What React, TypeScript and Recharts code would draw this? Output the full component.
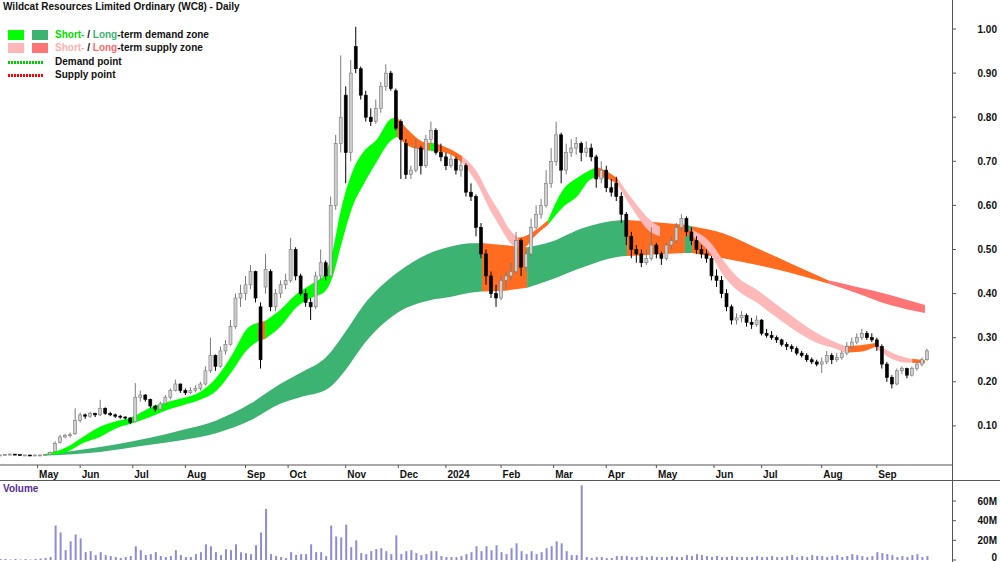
import React from 'react';
import { ComposedChart, BarChart, Bar, Area, XAxis, YAxis } from 'recharts';

// ---------- DATA ----------
// one candle per two trading-day slots, x = slot index (2*k)
const candleOpen = [
  .034,.034,.035,.036,.035,.034,.034,.033,.034,.034,
  .035,.042,.062,.075,.078,.082,.112,.125,.122,.128,
  .125,.140,.128,.125,.122,.120,.118,.110,.165,.170,
  .160,.145,.138,.150,.165,.180,.195,.180,.175,.180,
  .185,.195,.225,.260,.235,.270,.285,.325,.390,.400,
  .420,.450,.370,.415,.450,.370,.400,.420,.430,.500,
  .440,.400,.380,.370,.440,.470,.440,.600,.740,.850,
  .720,.960,.910,.850,.800,.790,.820,.870,.900,.860,
  .790,.740,.670,.680,.730,.690,.750,.770,.720,.710,
  .690,.705,.680,.690,.630,.620,.550,.490,.440,.400,
  .390,.430,.440,.450,.520,.460,.490,.550,.580,.600,
  .650,.700,.760,.680,.720,.730,.740,.720,.730,.710,
  .660,.680,.640,.650,.620,.580,.530,.500,.490,.470,
  .480,.510,.490,.480,.510,.520,.550,.570,.540,.520,
  .500,.490,.480,.440,.430,.400,.370,.340,.345,.350,
  .335,.330,.340,.310,.305,.300,.295,.285,.280,.275,
  .265,.260,.250,.245,.240,.245,.260,.250,.255,.265,
  .280,.290,.300,.310,.300,.295,.280,.240,.210,.195,
  .225,.230,.215,.230,.240,.250,
];
const candleHigh = [
  .035,.036,.037,.036,.035,.035,.034,.035,.035,.036,
  .042,.065,.080,.082,.085,.140,.130,.128,.132,.130,
  .159,.142,.132,.128,.125,.122,.120,.197,.180,.172,
  .162,.148,.155,.170,.185,.205,.196,.185,.188,.192,
  .200,.235,.300,.262,.280,.295,.340,.400,.420,.440,
  .465,.452,.380,.490,.455,.410,.430,.445,.526,.505,
  .445,.410,.390,.450,.500,.475,.620,.760,.940,.870,
  .930,1.005,.915,.860,.820,.840,.880,.920,.905,.865,
  .795,.750,.690,.750,.735,.760,.790,.775,.740,.720,
  .715,.710,.700,.695,.650,.625,.560,.500,.450,.420,
  .440,.450,.470,.540,.525,.500,.570,.600,.615,.680,
  .730,.790,.765,.740,.750,.755,.745,.745,.740,.715,
  .700,.690,.660,.665,.630,.585,.540,.510,.500,.500,
  .550,.515,.495,.515,.530,.560,.580,.575,.550,.530,
  .510,.500,.485,.455,.440,.410,.375,.355,.360,.355,
  .345,.350,.342,.320,.315,.305,.298,.290,.285,.280,
  .270,.265,.255,.250,.255,.270,.265,.265,.270,.290,
  .300,.310,.320,.315,.310,.300,.285,.245,.215,.230,
  .235,.232,.235,.245,.255,.275,
];
const candleLow = [
  .033,.034,.034,.034,.033,.033,.032,.033,.033,.034,
  .035,.042,.060,.072,.074,.080,.108,.116,.118,.120,
  .122,.125,.122,.118,.116,.114,.104,.108,.155,.155,
  .140,.132,.135,.148,.160,.178,.175,.170,.172,.176,
  .180,.192,.220,.225,.232,.262,.282,.320,.370,.385,
  .410,.380,.230,.400,.360,.360,.390,.410,.425,.430,
  .395,.370,.340,.365,.430,.430,.440,.590,.720,.650,
  .700,.900,.840,.790,.780,.785,.810,.860,.860,.770,
  .660,.660,.660,.675,.670,.685,.740,.715,.700,.680,
  .685,.670,.665,.620,.610,.530,.480,.420,.390,.370,
  .385,.410,.430,.445,.440,.450,.485,.545,.570,.595,
  .640,.690,.650,.670,.710,.715,.700,.710,.700,.640,
  .650,.630,.620,.610,.560,.510,.480,.470,.460,.465,
  .475,.480,.465,.475,.500,.515,.540,.530,.510,.490,
  .480,.470,.430,.415,.390,.360,.330,.330,.335,.325,
  .320,.325,.305,.300,.295,.288,.280,.272,.268,.260,
  .255,.245,.240,.235,.220,.240,.240,.245,.250,.260,
  .275,.285,.295,.295,.290,.270,.230,.200,.185,.192,
  .218,.208,.212,.225,.235,.248,
];
const candleClose = [
  .034,.035,.036,.035,.034,.034,.033,.034,.034,.035,
  .040,.060,.075,.078,.080,.112,.125,.122,.128,.125,
  .140,.128,.125,.122,.120,.118,.108,.165,.170,.160,
  .145,.138,.150,.165,.180,.195,.180,.175,.180,.185,
  .195,.225,.260,.235,.270,.285,.325,.390,.400,.420,
  .450,.390,.250,.455,.370,.400,.420,.430,.500,.440,
  .400,.380,.370,.440,.470,.440,.600,.740,.800,.720,
  .900,.910,.850,.800,.790,.820,.870,.900,.865,.775,
  .750,.670,.680,.730,.690,.750,.770,.720,.710,.690,
  .705,.680,.690,.630,.620,.550,.490,.440,.400,.390,
  .430,.440,.450,.520,.460,.490,.550,.580,.600,.650,
  .700,.760,.680,.720,.730,.740,.720,.730,.710,.660,
  .680,.640,.630,.620,.580,.530,.500,.490,.470,.480,
  .510,.490,.480,.510,.520,.550,.570,.540,.520,.500,
  .490,.480,.440,.430,.400,.370,.340,.345,.350,.335,
  .330,.340,.310,.305,.300,.295,.285,.280,.275,.265,
  .260,.250,.245,.240,.245,.260,.250,.255,.265,.280,
  .290,.300,.310,.300,.295,.280,.240,.210,.195,.225,
  .230,.215,.230,.240,.250,.270,
];
// volume in millions
const volumeM = [
  1,1,0.5,1,0.5,1,0.5,1,1.5,2,
  3,35,28,10,19,26,22,8,9,5,
  8,5,4,3,2,3,4,14,10,5,
  6,8,4,3,4,10,5,3,3,6,
  8,16,14,8,5,11,10,16,8,7,
  6,15,28,52,6,4,3,2,8,5,
  6,6,16,8,8,4,35,24,23,36,
  13,20,7,6,9,11,12,9,6,25,
  6,9,10,7,5,6,9,9,4,3,
  3,3,4,6,8,14,9,14,10,15,
  8,6,12,17,9,6,9,6,8,12,
  14,19,17,9,5,5,76,3,2,3,
  3,2,2,4,4,4,3,3,4,3,
  4,3,3,3,4,3,3,5,4,6,
  5,4,3,4,3,3,4,3,3,3,
  3,4,3,3,4,3,3,4,5,3,
  4,3,5,4,4,3,4,5,3,4,
  6,5,4,3,4,8,7,6,5,3,
  4,3,5,6,3,4,
];

const monthTickIdx = [15, 32, 53, 74, 98, 115, 138, 159, 178, 200, 221, 242, 262, 285, 304, 328, 350];
const monthLabels = ['May', 'Jun', 'Jul', 'Aug', 'Sep', 'Oct', 'Nov', 'Dec', '2024', 'Feb', 'Mar', 'Apr', 'May', 'Jun', 'Jul', 'Aug', 'Sep'];
const priceTicks = [0.1, 0.2, 0.3, 0.4, 0.5, 0.6, 0.7, 0.8, 0.9, 1.0];
const volumeTicks = [0, 20, 40, 60];

// short-term zone (x position, upper, lower, colour of the stretch that starts here)
const stIdx = [18.0,26.7,33.1,39.9,46.7,51.9,59.9,66.7,73.1,79.8,86.6,93.0,98.6,103.0,105.8,111.8,118.6,125.0,129.7,132.9,135.7,140.9,144.9,150.5,155.7,158.5,164.9,168.9,171.7,174.5,179.6,184.4,190.4,195.6,199.6,203.6,206.8,209.6,212.8,218.8,224.7,230.3,235.5,238.3,243.5,246.7,252.7,259.5,263.5,269.9,276.2,283.4,288.6,294.2,302.2,310.2,318.2,326.2,334.1,337.3,343.3,349.3,355.3,362.1,364.1,369.2];
const stUpper = [.036,.052,.075,.098,.111,.118,.141,.154,.163,.177,.211,.265,.320,.334,.338,.363,.400,.424,.445,.500,.580,.680,.720,.750,.795,.800,.760,.744,.742,.740,.728,.712,.676,.620,.583,.544,.527,.530,.540,.567,.635,.662,.680,.687,.673,.660,.612,.567,.552,.546,.544,.517,.476,.438,.408,.374,.340,.310,.288,.281,.283,.288,.268,.254,.252,.249];
const stLower = [.033,.041,.061,.075,.095,.104,.120,.136,.147,.159,.181,.227,.272,.292,.297,.324,.370,.392,.405,.440,.500,.600,.645,.700,.745,.755,.730,.726,.724,.722,.716,.697,.650,.590,.551,.515,.502,.505,.526,.556,.596,.620,.658,.665,.658,.645,.590,.540,.530,.530,.530,.492,.442,.408,.379,.345,.313,.288,.274,.266,.268,.279,.254,.243,.243,.242];
const stColor = ['G','G','G','G','G','G','G','G','G','G','G','G','G','O','G','G','G','G','G','G','G','G','G','G','G','O','O','O','G','O','O','P','P','P','P','P','O','O','O','G','G','G','G','O','O','P','P','P','O','O','P','P','P','P','P','P','P','P','P','O','O','P','P','P','O','O'];

// long-term zone
const ltIdx = [18.0,39.9,59.9,73.1,86.6,99.8,111.8,119.8,130.5,137.7,144.9,158.5,171.7,179.6,187.6,192.4,199.6,210.4,219.6,232.7,246.3,250.3,259.5,273.4,276.2,288.6,302.2,315.4,330.5,342.1,355.3,369.2];
const ltUpper = [.035,.052,.073,.091,.113,.150,.195,.220,.258,.312,.372,.447,.492,.506,.514,.515,.511,.505,.517,.549,.566,.567,.563,.556,.553,.537,.503,.469,.430,.415,.397,.374];
const ltLower = [.033,.041,.057,.068,.084,.112,.150,.165,.183,.225,.283,.356,.385,.392,.402,.405,.406,.413,.431,.460,.483,.485,.488,.492,.492,.480,.465,.447,.423,.401,.374,.356];
const ltColor = ['D','D','D','D','D','D','D','D','D','D','D','D','D','D','D','O','O','D','D','D','D','O','O','D','O','O','O','O','S','S','S','S'];

const COLORS: Record<string, string> = {
  G: '#00FF00', D: '#3CB371', O: '#FF6B1F', P: '#FFB8B8', S: '#FF7575',
};

// ---------- BUILD ----------
const rowMap = new Map<number, any>();
const getRow = (i: number) => {
  if (!rowMap.has(i)) rowMap.set(i, { i });
  return rowMap.get(i);
};
candleClose.forEach((c, k) => {
  const r = getRow(k * 2);
  r.o = candleOpen[k]; r.h = candleHigh[k]; r.l = candleLow[k]; r.c = c;
});

function buildSegments(prefix: string, idx: number[], up: number[], lo: number[], col: string[]) {
  const segs: { key: string; color: string }[] = [];
  let seg = -1;
  idx.forEach((x, j) => {
    const row = getRow(x);
    if (j === 0 || col[j] !== col[j - 1]) {
      if (j > 0) row[`${prefix}${seg}`] = [lo[j], up[j]];
      seg += 1;
      segs.push({ key: `${prefix}${seg}`, color: COLORS[col[j]] });
    }
    row[`${prefix}${seg}`] = [lo[j], up[j]];
  });
  return segs;
}
const ltSegs = buildSegments('lt', ltIdx, ltUpper, ltLower, ltColor);
const stSegs = buildSegments('st', stIdx, stUpper, stLower, stColor);
const priceData = Array.from(rowMap.values()).sort((a, b) => a.i - b.i);
const volumeData = volumeM.map((v, k) => ({ i: k * 2, v }));

const FONT = '"Liberation Sans", Arial, sans-serif';
const X_DOMAIN: [number, number] = [0, 380];

const Candle = (props: any) => {
  const { x, y, width, height, payload } = props;
  if (!payload || payload.c == null || x == null || y == null) return null;
  const { o, h, l, c } = payload;
  const top = Math.min(y, y + height);
  const hh = Math.abs(height);
  const cx = x + width / 2;
  const yOf = (v: number) => (h === l ? top : top + ((h - v) / (h - l)) * hh);
  const up = c >= o;
  const bTop = yOf(Math.max(o, c));
  const bH = Math.max(1, yOf(Math.min(o, c)) - bTop);
  const col = up ? '#7a7a7a' : '#000000';
  return (
    <g>
      <line x1={cx} x2={cx} y1={top} y2={top + hh} stroke={col} strokeWidth={1} />
      <rect x={cx - 1.5} y={bTop} width={3} height={bH} fill={up ? '#cfcfcf' : '#000'} stroke={col} strokeWidth={0.6} />
    </g>
  );
};

const PriceTick = (props: any) => {
  const { y, payload } = props;
  return (
    <text x={997} y={y + 3.5} textAnchor="end" fontSize={10} fontWeight="bold" fill="#111" fontFamily={FONT}>
      {Number(payload.value).toFixed(2)}
    </text>
  );
};
const VolTick = (props: any) => {
  const { y, payload } = props;
  const v = Number(payload.value);
  return (
    <text x={997} y={v === 0 ? y + 1 : y + 3.5} textAnchor="end" fontSize={10} fontWeight="bold" fill="#111" fontFamily={FONT}>
      {v === 0 ? '0' : `${v}M`}
    </text>
  );
};
const MonthTick = (props: any) => {
  const { x, payload } = props;
  const j = monthTickIdx.indexOf(payload.value);
  return (
    <g>
      <line x1={x} x2={x} y1={465} y2={468} stroke="#555" />
      <text x={x + 1.5} y={477.5} fontSize={10} fontWeight="bold" fill="#111" fontFamily={FONT}>
        {monthLabels[j]}
      </text>
    </g>
  );
};

const abs = (left: number, top: number, extra: React.CSSProperties = {}): React.CSSProperties => ({
  position: 'absolute', left, top, ...extra,
});

const Sq = ({ left, top, color }: { left: number; top: number; color: string }) => (
  <div style={abs(left, top, { width: 16, height: 10, background: color })} />
);
const Dots = ({ top, color }: { top: number; color: string }) => (
  <svg style={abs(8, top)} width={36} height={3}>
    <line x1={0} y1={1.5} x2={36} y2={1.5} stroke={color} strokeWidth={3} strokeDasharray="2 1" />
  </svg>
);

export default function App() {
  const txt: React.CSSProperties = { fontSize: 10, fontWeight: 'bold', color: '#111', whiteSpace: 'nowrap', lineHeight: '12px' };
  return (
    <div style={{ position: 'absolute', left: 0, top: 0, width: 1000, height: 562, overflow: 'hidden', background: '#fff', fontFamily: FONT }}>
      <div style={abs(0, 0)}>
        <ComposedChart width={1000} height={480} data={priceData} margin={{ top: 0, right: 0, bottom: 0, left: 0 }}>
          <XAxis
            dataKey="i" type="number" domain={X_DOMAIN} allowDataOverflow ticks={monthTickIdx} interval={0}
            height={15} tick={<MonthTick />} tickLine={false} axisLine={{ stroke: '#555' }}
          />
          <YAxis
            orientation="right" width={48} type="number" domain={[0.0113, 1.0658]} allowDataOverflow
            ticks={priceTicks} interval={0} tick={<PriceTick />} tickSize={4} tickLine={{ stroke: '#555' }} axisLine={false}
          />
          {ltSegs.map((s) => (
            <Area key={s.key} dataKey={s.key} type="monotone" stroke="none" fill={s.color} fillOpacity={1}
              connectNulls isAnimationActive={false} dot={false} activeDot={false} />
          ))}
          {stSegs.map((s) => (
            <Area key={s.key} dataKey={s.key} type="monotone" stroke="none" fill={s.color} fillOpacity={1}
              connectNulls isAnimationActive={false} dot={false} activeDot={false} />
          ))}
          <Bar dataKey={(d: any) => (d.c == null ? null : [d.l, d.h])} barSize={3} shape={<Candle />} isAnimationActive={false} />
        </ComposedChart>
      </div>

      <div style={abs(0, 480)}>
        <BarChart width={1000} height={82} data={volumeData} margin={{ top: 0, right: 0, bottom: 2, left: 0 }}>
          <XAxis dataKey="i" type="number" domain={X_DOMAIN} allowDataOverflow hide />
          <YAxis
            orientation="right" width={48} type="number" domain={[0, 81.4]} allowDataOverflow
            ticks={volumeTicks} interval={0} tick={<VolTick />} tickSize={4} tickLine={{ stroke: '#555' }} axisLine={false}
          />
          <Bar dataKey="v" fill="#8C8CD6" barSize={2} isAnimationActive={false} />
        </BarChart>
      </div>

      {/* frame lines */}
      <div style={abs(952, 0, { width: 1, height: 562, background: '#555' })} />
      <div style={abs(0, 480, { width: 1000, height: 1, background: '#555' })} />

      {/* title & legend */}
      <div style={abs(3, 1, txt)}>Wildcat Resources Limited Ordinary (WC8) - Daily</div>
      <Sq left={8} top={30} color="#00FF00" />
      <Sq left={32} top={30} color="#3CB371" />
      <div style={abs(55, 29, txt)}>
        <span style={{ color: '#00E000' }}>Short-</span> / <span style={{ color: '#3CB371' }}>Long</span>-term demand zone
      </div>
      <Sq left={8} top={43} color="#FFB8B8" />
      <Sq left={32} top={43} color="#FF7575" />
      <div style={abs(55, 42, txt)}>
        <span style={{ color: '#FFB0B0' }}>Short-</span> / <span style={{ color: '#FF6B6B' }}>Long</span>-term supply zone
      </div>
      <Dots top={61} color="#00D000" />
      <div style={abs(55, 56, txt)}>Demand point</div>
      <Dots top={74} color="#FF0000" />
      <div style={abs(55, 69, txt)}>Supply point</div>

      <div style={abs(3, 483, { ...txt, color: '#5A2D91' })}>Volume</div>
    </div>
  );
}
